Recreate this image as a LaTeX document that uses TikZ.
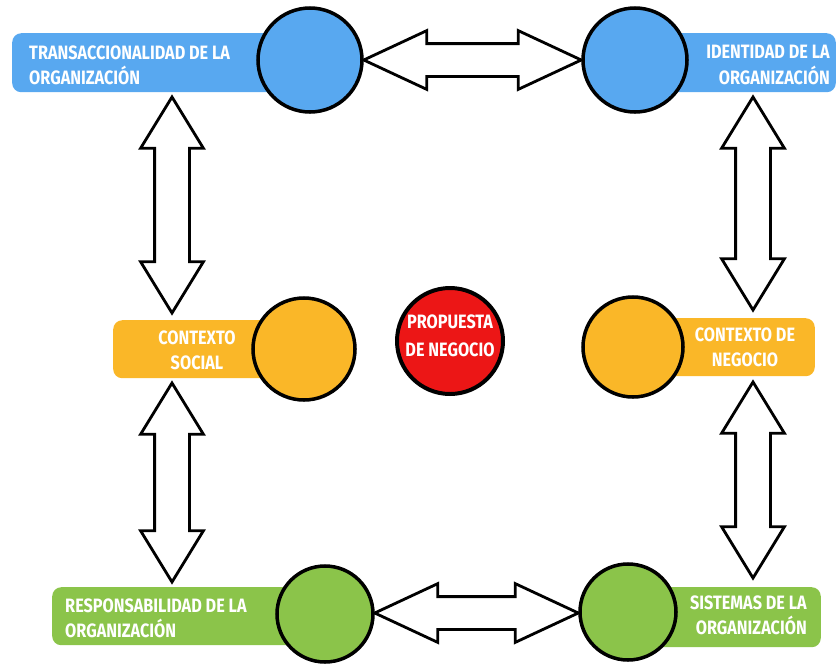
\documentclass[tikz,border=0pt]{standalone}
\usepackage{fontspec}
\newfontfamily\lblfont{Fira Sans}[FakeStretch=0.84]
\usetikzlibrary{shapes.arrows,calc}
\definecolor{blu}{RGB}{88,168,240}
\definecolor{org}{RGB}{250,183,40}
\definecolor{grn}{RGB}{139,196,74}
\definecolor{rd}{RGB}{236,22,22}
\newlength\px
\setlength\px{0.03cm}

\begin{document}
\begin{tikzpicture}[x=\px,y=-\px,
    box/.style={rounded corners=9\px, minimum height=59\px, inner sep=0pt},
    circ/.style={circle, draw=black, line width=3pt, minimum size=#1\px, inner sep=0pt},
    lbl/.style={text=white, inner sep=0pt, font=\lblfont\bfseries\fontsize{16.5}{21.5}\selectfont},
    harr/.style={double arrow, draw=black, fill=white, line width=2.4pt, inner xsep=0pt,
      inner ysep=15\px, double arrow head extend=13\px, double arrow tip angle=50},
    varr/.style={harr, inner ysep=16\px, double arrow head extend=14\px, double arrow tip angle=63}]
    \useasboundingbox (0,0) rectangle (838,665);
    % boxes
    \node[box, fill=blu, minimum width=288\px, anchor=north west] (tbox) at (12,33) {};
    \node[box, fill=blu, minimum width=196\px, anchor=north east] (ibox) at (836,33) {};
    \node[box, fill=org, minimum width=180\px, minimum height=58\px, anchor=north west] (sbox) at (113,320) {};
    \node[box, fill=org, minimum width=177\px, minimum height=58\px, anchor=north east] (nbox) at (815,318) {};
    \node[box, fill=grn, minimum width=260\px, minimum height=58\px, anchor=north west] (rbox) at (52,587) {};
    \node[box, fill=grn, minimum width=193\px, minimum height=60\px, anchor=north east] (ybox) at (821,587) {};
    % circles
    \node[circ=104, fill=blu] (tlc) at (310,60) {};
    \node[circ=104, fill=blu] (trc) at (635,60) {};
    \node[circ=102, fill=org] (slc) at (304,349) {};
    \node[circ=100, fill=org] (nrc) at (633,347) {};
    \node[circ=106, fill=rd, line width=3.4pt] (prc) at (450,341) {};
    \node[circ=96, fill=grn] (blc) at (325,614) {};
    \node[circ=96, fill=grn] (brc) at (628,612) {};
    % texts
    \node[lbl, align=left, anchor=west] (ttxt) at (29,65) {TRANSACCIONALIDAD DE LA\\ORGANIZACIÓN};
    \node[lbl, align=right, anchor=east] (itxt) at (830,65) {IDENTIDAD DE LA\\ORGANIZACIÓN};
    \node[lbl, align=center] (stxt) at (197,350) {CONTEXTO\\SOCIAL};
    \node[lbl, align=center] (ntxt) at (745,347) {CONTEXTO DE\\NEGOCIO};
    \node[lbl, align=left, anchor=west] (rtxt) at (65,618) {RESPONSABILIDAD DE LA\\ORGANIZACIÓN};
    \node[lbl, align=right, anchor=east] (ytxt) at (807,615) {SISTEMAS DE LA\\ORGANIZACIÓN};
    \node[lbl, align=center, font=\lblfont\bfseries\fontsize{16.5}{24}\selectfont] (ptxt) at (450,336) {PROPUESTA\\DE NEGOCIO};
    % arrows
    \foreach \a/\b/\nm in {tlc/trc/ha1, blc/brc/ha2}
      \path let \p1=(\a.east), \p2=(\b.west), \n1={veclen(\x2-\x1,\y2-\y1)} in
        node[harr, minimum height=\n1] (\nm) at ($(\p1)!.5!(\p2)$) {};
    \coordinate (v1-s) at (172,97);  \coordinate (v1-e) at (172,313);
    \coordinate (v2-s) at (172,383); \coordinate (v2-e) at (172,582);
    \coordinate (v3-s) at (753,97);  \coordinate (v3-e) at (753,310);
    \coordinate (v4-s) at (753,382); \coordinate (v4-e) at (753,578);
    \foreach \nm in {1,...,4}
      \path let \p1=(v\nm-s), \p2=(v\nm-e), \n1={veclen(\x2-\x1,\y2-\y1)} in
        node[varr, minimum height=\n1, rotate=90] (va\nm) at ($(\p1)!.5!(\p2)$) {};
\end{tikzpicture}
\end{document}
